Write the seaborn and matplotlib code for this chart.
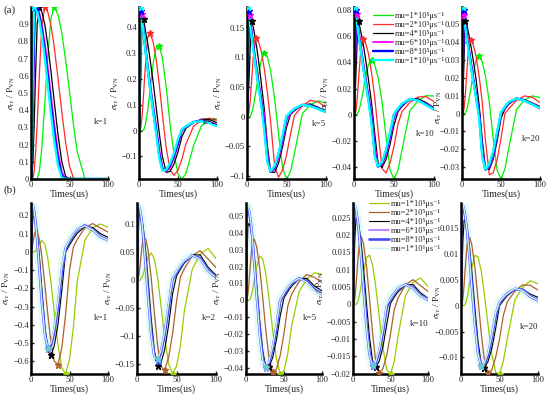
import numpy as np
import pandas as pd
import matplotlib
matplotlib.use('Agg')
import matplotlib.pyplot as plt
from matplotlib.lines import Line2D
from matplotlib.ticker import FuncFormatter
import seaborn as sns

# time samples (us), shared by every curve
T = [0, 1, 2.5, 4, 6, 8, 11, 14, 18, 22, 26, 30, 35, 40, 45, 50, 55, 60, 70, 80, 90, 100]

MU = ['1e5', '2e5', '4e5', '6e5', '8e5', '1e6']
MU_TEXT = ['mu=1*10\u2075\u03bcs\u207b\u00b9', 'mu=2*10\u2075\u03bcs\u207b\u00b9', 'mu=4*10\u2075\u03bcs\u207b\u00b9',
           'mu=6*10\u2075\u03bcs\u207b\u00b9', 'mu=8*10\u2075\u03bcs\u207b\u00b9', 'mu=1*10\u2076\u03bcs\u207b\u00b9']
K_VALUES = [1, 2, 5, 10, 20]

# ---- row (a): one list per mu, order 1e5, 2e5, 4e5, 6e5, 8e5, 1e6
A_K1 = [
    [0, 0, 0, 0, 0, 0, .047, .18, .445, .727, .935, .999, .957, .85, .69, .51, .32, .16, .001, 0, 0, 0],
    [0, 0, .003, .04, .155, .32, .62, .89, 1.0, .968, .89, .774, .59, .39, .21, .075, .006, 0, 0, 0, 0, 0],
    [0, .007, .103, .30, .62, .90, .998, .973, .896, .774, .623, .459, .26, .10, .015, 0, 0, 0, 0, 0, 0, 0],
    [0, .067, .37, .75, 1.0, .994, .96, .90, .786, .64, .48, .323, .155, .04, 0, 0, 0, 0, 0, 0, 0, 0],
    [0, .095, .5, .905, .998, .985, .942, .868, .745, .59, .429, .274, .114, .02, 0, 0, 0, 0, 0, 0, 0, 0],
    [0, .146, .69, 1.0, .993, .973, .919, .837, .70, .541, .376, .227, .081, .007, 0, 0, 0, 0, 0, 0, 0, 0],
]
A_K2 = [
    [0, 0, 0, 0, .002, .02, .075, .152, .256, .323, .326, .28, .166, .019, -.092, -.167, -.187, -.167, -.058, .018, .041, .045],
    [0, 0, .015, .057, .145, .243, .357, .376, .344, .276, .178, .062, -.069, -.154, -.173, -.153, -.111, -.053, .017, .039, .048, .040],
    [0, .05, .25, .42, .432, .39, .34, .28, .19, .09, -.01, -.101, -.162, -.157, -.128, -.082, -.024, .008, .031, .044, .043, .030],
    [0, .12, .42, .45, .382, .33, .257, .187, .10, .018, -.073, -.143, -.158, -.14, -.104, -.056, 0, .012, .032, .040, .034, .022],
    [0, .15, .46, .44, .377, .32, .246, .172, .084, 0, -.093, -.150, -.154, -.133, -.095, -.045, .0025, .0146, .033, .0375, .031, .019],
    [0, .20, .477, .427, .371, .315, .24, .165, .074, -.013, -.107, -.155, -.151, -.125, -.085, -.033, .005, .016, .033, .036, .029, .017],
]
A_K5 = [
    [0, 0, 0, .0007, .006, .017, .040, .066, .095, .108, .100, .0765, .030, -.030, -.086, -.105, -.093, -.062, .005, .020, .0269, .023],
    [0, 0, .007, .026, .063, .101, .1327, .129, .111, .080, .039, -.010, -.083, -.102, -.090, -.065, -.030, .002, .018, .0277, .025, .016],
    [0, .01, .06, .115, .161, .151, .128, .101, .058, .0117, -.051, -.093, -.094, -.078, -.051, -.018, .0035, .0102, .0198, .0215, .016, .0086],
    [0, .06, .16, .172, .144, .123, .094, .066, .032, 0, -.064, -.0935, -.088, -.07, -.042, -.007, .0057, .012, .020, .0195, .0145, .009],
    [0, .09, .179, .159, .138, .117, .088, .059, .025, -.017, -.074, -.093, -.085, -.063, -.035, 0, .0069, .0129, .020, .0185, .0135, .008],
    [0, .185, .172, .154, .133, .113, .083, .055, .02, -.025, -.078, -.092, -.083, -.062, -.031, .0007, .0077, .0138, .0203, .018, .013, .008],
]
A_K10 = [
    [0, 0, 0, .0003, .0026, .0074, .0166, .0269, .0383, .042, .038, .0286, .0101, -.0166, -.0426, -.0495, -.0426, -.0272, .003, .0106, .0145, .0142],
    [0, 0, .0031, .012, .029, .046, .058, .0559, .047, .032, .0128, -.0119, -.0414, -.0448, -.0375, -.0243, -.0074, .0023, .0094, .0135, .0137, .010],
    [0, .008, .032, .058, .0715, .065, .056, .0445, .0272, .0086, -.015, -.0371, -.0407, -.0345, -.0231, -.0081, .0022, .0062, .0118, .0122, .0092, .0052],
    [0, .025, .074, .077, .064, .0554, .0425, .0304, .0156, .0016, -.0243, -.0397, -.0385, -.0312, -.0184, -.0032, .0034, .0073, .0119, .0113, .0082, .0045],
    [0, .04, .080, .0704, .061, .052, .0396, .0272, .0124, -.0037, -.030, -.0402, -.0371, -.0284, -.0154, 0, .0042, .0078, .0119, .011, .0077, .004],
    [0, .0826, .0772, .069, .060, .051, .0384, .026, .0107, -.0074, -.032, -.040, -.0364, -.027, -.0138, .0004, .0047, .0083, .012, .0108, .0074, .0038],
]
A_K20 = [
    [0, 0, 0, .0002, .0021, .0058, .013, .0213, .030, .0324, .029, .0212, .0064, -.014, -.0317, -.0366, -.0311, -.0192, .0024, .0076, .00995, .009],
    [0, 0, .0024, .0091, .0219, .0343, .0413, .0393, .0322, .0207, .0064, -.0148, -.0343, -.0331, -.0259, -.014, 0, .0028, .0075, .0099, .0092, .0062],
    [0, .008, .028, .052, .050, .046, .039, .031, .0193, .0047, -.0147, -.030, -.0313, -.0255, -.0155, -.0027, .0025, .0053, .0085, .0079, .006, .004],
    [0, .018, .0555, .054, .0453, .0391, .0302, .0215, .0109, .0011, -.0191, -.0312, -.0301, -.0235, -.0127, 0, .0031, .0058, .0085, .0075, .0056, .0035],
    [0, .03, .0578, .0506, .0442, .0379, .0289, .0202, .0098, 0, -.0223, -.0315, -.029, -.022, -.0115, .0003, .0035, .0061, .0085, .0073, .0053, .003],
    [0, .0597, .054, .049, .0427, .0364, .0275, .0191, .009, -.0031, -.0241, -.0313, -.0283, -.021, -.010, .0007, .0039, .0065, .0085, .0072, .0052, .003],
]

# ---- row (b)
B_K1 = [
    [0, 0, 0, 0, .005, .018, .044, .062, .043, -.040, -.169, -.323, -.509, -.636, -.67, -.589, -.416, -.164, .063, .131, .153, .135],
    [0, .015, .05, .09, .118, .114, .065, -.023, -.178, -.35, -.501, -.598, -.62, -.527, -.341, -.102, .026, .068, .132, .155, .1315, .108],
    [0, .09, .19, .196, .163, .101, -.034, -.199, -.408, -.545, -.566, -.52, -.40, -.211, 0, .038, .072, .102, .139, .134, .10, .08],
    [0, .255, .246, .218, .156, .071, -.090, -.254, -.44, -.531, -.52, -.456, -.314, -.124, .016, .056, .091, .12, .1458, .125, .086, .066],
    [0, .262, .252, .223, .158, .0655, -.095, -.266, -.448, -.529, -.51, -.441, -.295, -.103, .021, .060, .094, .122, .145, .122, .083, .064],
    [0, .268, .258, .227, .159, .065, -.104, -.277, -.458, -.525, -.499, -.425, -.275, -.082, .025, .064, .099, .124, .143, .121, .082, .063],
]
B_K2 = [
    [0, 0, 0, .0005, .0047, .012, .027, .041, .049, .0376, .0058, -.0402, -.102, -.149, -.167, -.153, -.116, -.054, .0203, .047, .057, .039],
    [0, .001, .010, .028, .057, .0754, .074, .054, .004, -.0577, -.115, -.153, -.160, -.138, -.095, -.038, .0061, .021, .044, .053, .038, .023],
    [0, .05, .115, .119, .1096, .093, .052, .0013, -.069, -.126, -.152, -.149, -.124, -.080, -.024, .0078, .020, .031, .0455, .0454, .0234, .009],
    [0, .132, .1294, .1215, .104, .0784, .0294, -.0246, -.091, -.134, -.1446, -.133, -.10, -.052, .0012, .013, .024, .0337, .0445, .0406, .0188, .006],
    [0, .135, .1322, .124, .106, .079, .0276, -.0277, -.095, -.136, -.143, -.130, -.095, -.046, .0024, .0144, .025, .034, .0444, .0387, .017, .005],
    [0, .138, .135, .127, .107, .079, .026, -.031, -.098, -.138, -.141, -.127, -.091, -.040, .0037, .0158, .0266, .0356, .0447, .0375, .0164, .005],
]
B_K5 = [
    [0, 0, 0, 0, .0011, .0045, .0119, .0199, .0262, .0245, .0159, .0022, -.0175, -.0346, -.0437, -.0416, -.0315, -.0153, .0053, .0126, .0163, .0155],
    [0, .0003, .0038, .011, .0226, .0328, .0361, .0318, .0193, .0015, -.0174, -.0331, -.0427, -.0409, -.0327, -.0195, -.0034, .0036, .0112, .0153, .0136, .0105],
    [0, .018, .044, .0457, .0429, .0374, .0253, .010, -.012, -.0297, -.0396, -.0398, -.0341, -.0235, -.0092, .0015, .0052, .0084, .0128, .0130, .0085, .0056],
    [0, .0555, .0546, .052, .0464, .0382, .0225, .0048, -.0178, -.034, -.040, -.038, -.030, -.0173, -.0016, .0034, .007, .0099, .0131, .0116, .0067, .004],
    [0, .0565, .0556, .053, .047, .0387, .0221, .0037, -.019, -.035, -.0398, -.0372, -.0287, -.016, 0, .0038, .0073, .0101, .013, .0111, .0065, .0036],
    [0, .0577, .0568, .054, .048, .0389, .0216, .0026, -.0207, -.036, -.0395, -.0365, -.0274, -.0143, .0004, .0043, .0077, .0105, .013, .0107, .006, .0035],
]
B_K10 = [
    [0, 0, 0, 0, .0005, .002, .0054, .0094, .0135, .0142, .0114, .0057, -.0036, -.0127, -.0188, -.0201, -.0165, -.0092, .0025, .0063, .0076, .0051],
    [0, .0001, .0019, .0053, .0113, .0167, .0195, .0175, .011, .0017, -.0081, -.016, -.0199, -.0185, -.0147, -.0086, -.0015, .0018, .0056, .0071, .0054, .0037],
    [0, .008, .019, .025, .0244, .0224, .0174, .0106, .0001, -.0096, -.0162, -.0182, -.0164, -.0122, -.0058, .0003, .0021, .0036, .0056, .0057, .0033, .0017],
    [0, .0282, .0278, .0267, .0241, .0205, .0134, .0052, -.0056, -.0138, -.0176, -.0173, -.0141, -.0085, -.0015, .0014, .003, .0043, .0058, .005, .0027, .0015],
    [0, .0287, .0283, .0271, .0244, .0206, .0132, .0048, -.0061, -.0144, -.0177, -.017, -.0136, -.0078, -.0007, .0016, .0032, .0045, .0057, .0047, .0025, .0013],
    [0, .0292, .0288, .0276, .0247, .0207, .013, .0043, -.0067, -.0147, -.0176, -.0167, -.013, -.007, 0, .0017, .0033, .0046, .0057, .0046, .0024, .0013],
]
B_K20 = [
    [0, 0, 0, 0, .0004, .0016, .0043, .0072, .0097, .0094, .0069, .0026, -.0036, -.0093, -.0129, -.0132, -.0107, -.0065, .0011, .0035, .0048, .0042],
    [0, .0001, .0014, .004, .0082, .012, .0132, .0118, .0075, .0014, -.0049, -.0101, -.013, -.0124, -.010, -.0065, -.0019, .0007, .0028, .004, .0039, .003],
    [0, .005, .0125, .0165, .0161, .0147, .0113, .0067, -.0004, -.0068, -.011, -.012, -.0108, -.0083, -.0044, 0, .001, .0019, .0031, .0032, .0022, .0016],
    [0, .0192, .019, .0182, .0166, .0142, .0095, .0041, -.0031, -.0087, -.0116, -.0116, -.0098, -.0066, -.0023, .0005, .0014, .0022, .0033, .0032, .0019, .0011],
    [0, .0195, .0192, .0185, .0167, .0143, .0095, .0039, -.0034, -.009, -.0116, -.0114, -.0095, -.0061, -.0018, .0006, .0015, .0023, .0032, .003, .0017, .001],
    [0, .0198, .0195, .0187, .0169, .0143, .0093, .0036, -.0038, -.0093, -.0116, -.0112, -.0091, -.0057, -.0014, .0007, .0016, .0023, .0033, .0029, .0017, .001],
]

A_YTICKS = [[0, .1, .2, .3, .4, .5, .6, .7, .8, .9], [-.1, 0, .1, .2, .3, .4],
            [-.1, -.05, 0, .05, .1, .15], [-.04, -.02, 0, .02, .04, .06, .08],
            [-.03, -.02, -.01, 0, .01, .02, .03, .04, .05]]
B_YTICKS = [[-.6, -.5, -.4, -.3, -.2, -.1, 0, .1, .2], [-.15, -.1, -.05, 0, .05, .1],
            [-.04, -.03, -.02, -.01, 0, .01, .02, .03, .04, .05],
            [-.02, -.015, -.01, -.005, 0, .005, .01, .015, .02, .025],
            [-.01, -.005, 0, .005, .01, .015]]

A_COLORS = ['#00f000', '#ff2a2a', '#000000', '#ff00ff', '#0000ff', '#00ffff']
A_WIDTHS = [0.9, 0.9, 0.9, 1.3, 1.7, 1.7]
B_COLORS = ['#99cc00', '#b0602a', '#000000', '#b070ff', '#4848ff', '#c8f4f4']
B_WIDTHS = [0.9, 0.9, 0.8, 1.2, 1.9, 1.0]

# long table
rows = []
for row_name, panels in (('a', [A_K1, A_K2, A_K5, A_K10, A_K20]), ('b', [B_K1, B_K2, B_K5, B_K10, B_K20])):
    for k, panel in zip(K_VALUES, panels):
        for mu, series in zip(MU, panel):
            assert len(series) == len(T)
            for t, v in zip(T, series):
                rows.append((row_name, k, mu, t, v))
df = pd.DataFrame(rows, columns=['row', 'k', 'mu', 't', 'v'])

sns.set_theme(style='ticks')
plt.rcParams['font.family'] = ['Liberation Serif', 'DejaVu Serif']
plt.rcParams['mathtext.fontset'] = 'stix'

fig = plt.figure(figsize=(5.5, 3.95), dpi=100)
W, H = 550.0, 395.0

# panel boxes in pixels: left, right, top, bottom
A_BOX = [(31, 108), (139, 217), (247, 326), (354, 434), (462, 540)]
B_BOX = [(31, 108), (137, 216), (246, 322), (353, 428), (461, 538)]
A_TB = (7, 179)
B_TB = (203, 374)
A_KPOS = [(1.0, .33), (1.0, .33), (1.0, .32), (1.0, .26), (1.0, .23)]
B_KPOS = [(1.0, .33), (1.0, .33), (.94, .33), (1.0, .29), (1.0, .275)]


def fmt(v, pos):
    s = '%g' % round(v, 5)
    return s.replace('-', '\u2212')


ylab = r'$\sigma$$_{\rm rr}$ / P$_{\rm VN}$'

for row_name, boxes, tb, colors, widths, yticks, kpos in (
        ('a', A_BOX, A_TB, A_COLORS, A_WIDTHS, A_YTICKS, A_KPOS),
        ('b', B_BOX, B_TB, B_COLORS, B_WIDTHS, B_YTICKS, B_KPOS)):
    for i, k in enumerate(K_VALUES):
        l, r = boxes[i]
        top, bot = tb
        ax = fig.add_axes([l / W, 1 - bot / H, (r - l) / W, (bot - top) / H])
        sub = df[(df['row'] == row_name) & (df['k'] == k)]

        if row_name == 'b':
            # pale wide band under the fastest curve
            sns.lineplot(data=sub[sub['mu'] == '1e6'], x='t', y='v', color='#e6fafa',
                         linewidth=6, estimator=None, legend=False, ax=ax, zorder=1)

        sns.lineplot(data=sub, x='t', y='v', hue='mu', hue_order=MU, palette=colors,
                     size='mu', size_order=MU, sizes=dict(zip(MU, widths)),
                     estimator=None, legend=False, ax=ax, zorder=2)

        # star markers: peaks in row (a), troughs in row (b)
        for j, mu in enumerate(MU):
            s = sub[sub['mu'] == mu]
            idx = s['v'].idxmax() if row_name == 'a' else s['v'].idxmin()
            ax.plot(s.loc[idx, 't'], s.loc[idx, 'v'], marker='*', ms=4.5,
                    color=colors[j] if j != 5 or row_name == 'a' else '#66cccc', zorder=3)

        ax.set_xlim(0, 100)
        ax.set_ylim(sub['v'].min(), sub['v'].max())
        ax.set_xticks([0, 50, 100])
        ax.set_yticks(yticks[i])
        ax.yaxis.set_major_formatter(FuncFormatter(fmt))
        ax.xaxis.set_major_formatter(FuncFormatter(fmt))
        ax.tick_params(direction='in', length=2, width=1, labelsize=6.2, pad=1.5)
        for side in ('top', 'right'):
            ax.spines[side].set_visible(False)
        for side in ('left', 'bottom'):
            ax.spines[side].set_linewidth(1.8)
            ax.spines[side].set_color('black')
        ax.set_xlabel('Times(us)', fontsize=7, labelpad=0)
        ax.set_ylabel(ylab, fontsize=6.8, labelpad=0.5)
        if i == 4:
            # keep the last label clear of the legend box on its left
            ax.yaxis.set_label_coords(-0.23, 0.42)
        ax.text(kpos[i][0], kpos[i][1], 'k=%d' % k, transform=ax.transAxes,
                ha='right', va='center', fontsize=6.5)

    leg_handles = [Line2D([], [], color=c, lw=w) for c, w in zip(colors, widths)]
    anchor = (373 / W, 1 - 12 / H) if row_name == 'a' else (369 / W, 1 - 200 / H)
    fig.legend(leg_handles, MU_TEXT, loc='upper left', bbox_to_anchor=anchor, frameon=False,
               fontsize=6, handlelength=2.4, handletextpad=0.25, labelspacing=0.12,
               borderaxespad=0, borderpad=0)

fig.text(4 / W, 1 - 10 / H, '(a)', fontsize=8, va='center')
fig.text(4 / W, 1 - 190 / H, '(b)', fontsize=8, va='center')

fig.savefig('out.png', dpi=100)
